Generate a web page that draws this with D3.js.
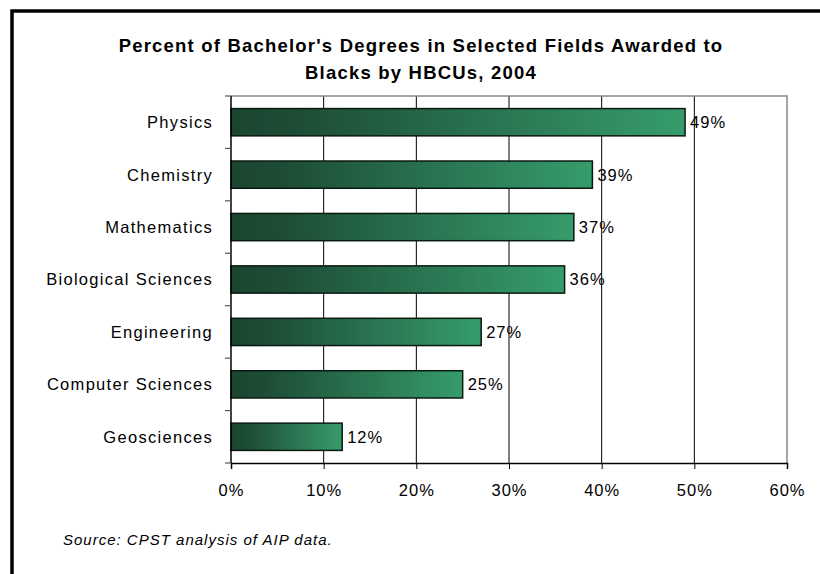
<html>

<head>
    <script src="https://d3js.org/d3.v7.min.js"></script>
    <style>
        body { margin: 0; background: #fff; }
        svg { display: block; }
    </style>
</head>

<body>
    <svg width="820" height="574"></svg>

    <script>
        // chart data
        const fields = ["Physics", "Chemistry", "Mathematics", "Biological Sciences",
                        "Engineering", "Computer Sciences", "Geosciences"];
        const percents = [49, 39, 37, 36, 27, 25, 12];
        const xTicks = [0, 10, 20, 30, 40, 50, 60];
        const titleLines = ["Percent of Bachelor's Degrees in Selected Fields Awarded to",
                            "Blacks by HBCUs, 2004"];
        const sourceNote = "Source: CPST analysis of AIP data.";

        const svg = d3.select("svg");
        const font = "'Liberation Sans', Arial, sans-serif";

        // plot area (note: "top" is taken by window.top)
        const plotLeft = 231, plotRight = 787, plotTop = 96, plotBottom = 463;

        const x = d3.scaleLinear().domain([0, 60]).range([plotLeft, plotRight]);
        const y = d3.scaleBand().domain(fields).range([plotTop, plotBottom]).paddingInner(0.48).paddingOuter(0.24);

        // gradient for the bars (dark left -> light right, per bar)
        const defs = svg.append("defs");
        const grad = defs.append("linearGradient")
            .attr("id", "barGrad")
            .attr("x1", "0%").attr("x2", "100%").attr("y1", "0%").attr("y2", "0%");
        grad.append("stop").attr("offset", "0%").attr("stop-color", "#1b4530");
        grad.append("stop").attr("offset", "15%").attr("stop-color", "#1d4d36");
        grad.append("stop").attr("offset", "100%").attr("stop-color", "#369c6c");

        // outer frame (runs off the right and bottom edges)
        svg.append("rect")
            .attr("x", 12).attr("y", 11)
            .attr("width", 900).attr("height", 700)
            .attr("fill", "none")
            .attr("stroke", "#000")
            .attr("stroke-width", 3.5);

        // title
        svg.append("text")
            .attr("x", 421)
            .attr("text-anchor", "middle")
            .style("font", "bold 18.5px " + font)
            .style("letter-spacing", "1.2px")
            .selectAll("tspan")
            .data(titleLines)
            .join("tspan")
            .attr("x", 421)
            .attr("y", (d, i) => 52 + i * 26.5)
            .text(d => d);

        // gridlines
        svg.append("g")
            .selectAll("line")
            .data(xTicks.filter(t => t > 0 && t < 60))
            .join("line")
            .attr("x1", d => x(d)).attr("x2", d => x(d))
            .attr("y1", plotTop).attr("y2", plotBottom)
            .attr("stroke", "#000")
            .attr("stroke-width", 1);

        // plot area top / right border
        svg.append("path")
            .attr("d", `M${plotLeft},${plotTop}H${plotRight}V${plotBottom}`)
            .attr("fill", "none")
            .attr("stroke", "#888")
            .attr("stroke-width", 1.5);

        // bars
        svg.append("g")
            .selectAll("rect")
            .data(fields)
            .join("rect")
            .attr("x", x(0))
            .attr("y", d => y(d))
            .attr("width", (d, i) => x(percents[i]) - x(0))
            .attr("height", y.bandwidth())
            .attr("fill", "url(#barGrad)")
            .attr("stroke", "#0a1a10")
            .attr("stroke-width", 1.5);

        // value labels
        svg.append("g")
            .selectAll("text")
            .data(fields)
            .join("text")
            .attr("x", (d, i) => x(percents[i]) + 5)
            .attr("y", d => y(d) + y.bandwidth() / 2)
            .attr("dy", "0.36em")
            .style("font", "16.5px " + font)
            .style("letter-spacing", "1px")
            .text((d, i) => percents[i] + "%");

        // x axis
        const xAxis = svg.append("g")
            .attr("transform", `translate(0,${plotBottom})`)
            .call(d3.axisBottom(x).tickValues(xTicks).tickFormat(d => d + "%").tickSize(6).tickPadding(15));
        xAxis.select(".domain").attr("stroke", "#000").attr("stroke-width", 1.5);
        xAxis.selectAll("text")
            .style("font", "16.5px " + font)
            .style("letter-spacing", "1px")
            .attr("fill", "#000");

        // y axis: line, ticks at category boundaries, labels
        const yBounds = d3.range(fields.length + 1).map(i => plotTop + i * (plotBottom - plotTop) / fields.length);
        svg.append("line")
            .attr("x1", plotLeft).attr("x2", plotLeft)
            .attr("y1", plotTop).attr("y2", plotBottom)
            .attr("stroke", "#000")
            .attr("stroke-width", 1.5);
        svg.append("g")
            .selectAll("line")
            .data(yBounds)
            .join("line")
            .attr("x1", plotLeft - 6).attr("x2", plotLeft)
            .attr("y1", d => d).attr("y2", d => d)
            .attr("stroke", "#555")
            .attr("stroke-width", 1.2);
        svg.append("g")
            .selectAll("text")
            .data(fields)
            .join("text")
            .attr("x", 213)
            .attr("y", d => y(d) + y.bandwidth() / 2)
            .attr("dy", "0.36em")
            .attr("text-anchor", "end")
            .style("font", "16.5px " + font)
            .style("letter-spacing", "1.3px")
            .text(d => d);

        // source note
        svg.append("text")
            .attr("x", 63)
            .attr("y", 545)
            .style("font", "italic 15px " + font)
            .style("letter-spacing", "1px")
            .text(sourceNote);
    </script>
</body>

</html>
